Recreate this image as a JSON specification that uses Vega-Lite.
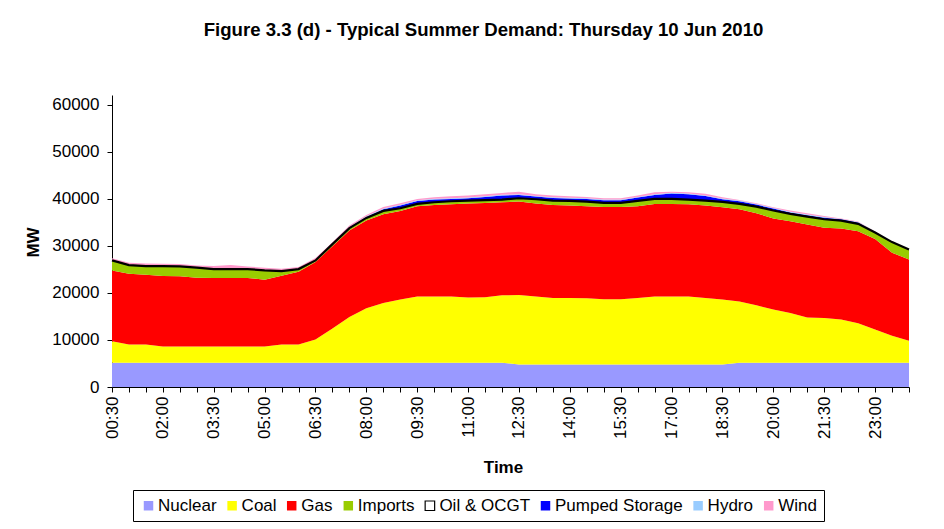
{
  "$schema": "https://vega.github.io/schema/vega-lite/v6.json",
  "width": 797,
  "height": 292,
  "autosize": {"type": "none"},
  "padding": {"left": 112, "top": 95, "right": 35, "bottom": 142},
  "background": "white",
  "config": {
    "font": "Liberation Sans",
    "view": {"stroke": null}
  },
  "title": {
    "text": "Figure 3.3 (d) - Typical Summer Demand: Thursday 10 Jun 2010",
    "font": "Liberation Sans",
    "fontSize": 18.6,
    "fontWeight": "bold",
    "color": "black",
    "anchor": "middle",
    "frame": "group",
    "dx": -27,
    "offset": 55
  },
  "data": {
    "values": [
      {"t": "00:30", "Nuclear": 5150, "Coal": 4600, "Gas": 15050, "Imports": 2120, "Oil & OCGT": 0, "Pumped Storage": 0, "Hydro": 80, "Wind": 400},
      {"t": "01:00", "Nuclear": 5150, "Coal": 3900, "Gas": 15050, "Imports": 1830, "Oil & OCGT": 0, "Pumped Storage": 0, "Hydro": 80, "Wind": 390},
      {"t": "01:30", "Nuclear": 5150, "Coal": 3900, "Gas": 14800, "Imports": 1870, "Oil & OCGT": 0, "Pumped Storage": 0, "Hydro": 80, "Wind": 450},
      {"t": "02:00", "Nuclear": 5150, "Coal": 3470, "Gas": 14980, "Imports": 2120, "Oil & OCGT": 0, "Pumped Storage": 0, "Hydro": 80, "Wind": 400},
      {"t": "02:30", "Nuclear": 5150, "Coal": 3470, "Gas": 14910, "Imports": 2120, "Oil & OCGT": 0, "Pumped Storage": 0, "Hydro": 80, "Wind": 420},
      {"t": "03:00", "Nuclear": 5150, "Coal": 3470, "Gas": 14630, "Imports": 2120, "Oil & OCGT": 0, "Pumped Storage": 0, "Hydro": 80, "Wind": 400},
      {"t": "03:30", "Nuclear": 5150, "Coal": 3470, "Gas": 14560, "Imports": 1900, "Oil & OCGT": 0, "Pumped Storage": 0, "Hydro": 80, "Wind": 560},
      {"t": "04:00", "Nuclear": 5150, "Coal": 3470, "Gas": 14560, "Imports": 1900, "Oil & OCGT": 0, "Pumped Storage": 0, "Hydro": 80, "Wind": 770},
      {"t": "04:30", "Nuclear": 5150, "Coal": 3470, "Gas": 14560, "Imports": 1900, "Oil & OCGT": 0, "Pumped Storage": 0, "Hydro": 80, "Wind": 490},
      {"t": "05:00", "Nuclear": 5150, "Coal": 3470, "Gas": 14210, "Imports": 1970, "Oil & OCGT": 0, "Pumped Storage": 0, "Hydro": 80, "Wind": 490},
      {"t": "05:30", "Nuclear": 5150, "Coal": 3900, "Gas": 14620, "Imports": 990, "Oil & OCGT": 0, "Pumped Storage": 0, "Hydro": 80, "Wind": 410},
      {"t": "06:00", "Nuclear": 5150, "Coal": 3900, "Gas": 15470, "Imports": 560, "Oil & OCGT": 0, "Pumped Storage": 0, "Hydro": 80, "Wind": 340},
      {"t": "06:30", "Nuclear": 5150, "Coal": 4950, "Gas": 16470, "Imports": 350, "Oil & OCGT": 0, "Pumped Storage": 30, "Hydro": 100, "Wind": 370},
      {"t": "07:00", "Nuclear": 5150, "Coal": 7290, "Gas": 17520, "Imports": 430, "Oil & OCGT": 0, "Pumped Storage": 60, "Hydro": 120, "Wind": 240},
      {"t": "07:30", "Nuclear": 5150, "Coal": 9750, "Gas": 18380, "Imports": 500, "Oil & OCGT": 0, "Pumped Storage": 120, "Hydro": 150, "Wind": 290},
      {"t": "08:00", "Nuclear": 5150, "Coal": 11600, "Gas": 18650, "Imports": 570, "Oil & OCGT": 0, "Pumped Storage": 180, "Hydro": 150, "Wind": 300},
      {"t": "08:30", "Nuclear": 5150, "Coal": 12720, "Gas": 18870, "Imports": 720, "Oil & OCGT": 0, "Pumped Storage": 340, "Hydro": 150, "Wind": 350},
      {"t": "09:00", "Nuclear": 5150, "Coal": 13450, "Gas": 18850, "Imports": 570, "Oil & OCGT": 0, "Pumped Storage": 570, "Hydro": 150, "Wind": 360},
      {"t": "09:30", "Nuclear": 5150, "Coal": 14080, "Gas": 19210, "Imports": 500, "Oil & OCGT": 0, "Pumped Storage": 610, "Hydro": 150, "Wind": 300},
      {"t": "10:00", "Nuclear": 5150, "Coal": 14080, "Gas": 19500, "Imports": 560, "Oil & OCGT": 0, "Pumped Storage": 570, "Hydro": 150, "Wind": 350},
      {"t": "10:30", "Nuclear": 5150, "Coal": 14080, "Gas": 19640, "Imports": 630, "Oil & OCGT": 0, "Pumped Storage": 500, "Hydro": 150, "Wind": 420},
      {"t": "11:00", "Nuclear": 5150, "Coal": 13870, "Gas": 19990, "Imports": 630, "Oil & OCGT": 0, "Pumped Storage": 500, "Hydro": 150, "Wind": 420},
      {"t": "11:30", "Nuclear": 5150, "Coal": 13950, "Gas": 20050, "Imports": 600, "Oil & OCGT": 0, "Pumped Storage": 680, "Hydro": 150, "Wind": 410},
      {"t": "12:00", "Nuclear": 5150, "Coal": 14350, "Gas": 19790, "Imports": 570, "Oil & OCGT": 0, "Pumped Storage": 850, "Hydro": 150, "Wind": 410},
      {"t": "12:30", "Nuclear": 4800, "Coal": 14770, "Gas": 19860, "Imports": 710, "Oil & OCGT": 0, "Pumped Storage": 710, "Hydro": 150, "Wind": 550},
      {"t": "13:00", "Nuclear": 4800, "Coal": 14430, "Gas": 19780, "Imports": 920, "Oil & OCGT": 0, "Pumped Storage": 560, "Hydro": 150, "Wind": 350},
      {"t": "13:30", "Nuclear": 4800, "Coal": 14130, "Gas": 19800, "Imports": 910, "Oil & OCGT": 0, "Pumped Storage": 570, "Hydro": 150, "Wind": 350},
      {"t": "14:00", "Nuclear": 4800, "Coal": 14130, "Gas": 19650, "Imports": 990, "Oil & OCGT": 0, "Pumped Storage": 530, "Hydro": 150, "Wind": 320},
      {"t": "14:30", "Nuclear": 4800, "Coal": 14100, "Gas": 19540, "Imports": 990, "Oil & OCGT": 0, "Pumped Storage": 570, "Hydro": 150, "Wind": 280},
      {"t": "15:00", "Nuclear": 4800, "Coal": 13850, "Gas": 19650, "Imports": 850, "Oil & OCGT": 0, "Pumped Storage": 560, "Hydro": 150, "Wind": 280},
      {"t": "15:30", "Nuclear": 4800, "Coal": 13850, "Gas": 19650, "Imports": 850, "Oil & OCGT": 0, "Pumped Storage": 560, "Hydro": 150, "Wind": 280},
      {"t": "16:00", "Nuclear": 4800, "Coal": 14130, "Gas": 19510, "Imports": 1130, "Oil & OCGT": 0, "Pumped Storage": 710, "Hydro": 150, "Wind": 280},
      {"t": "16:30", "Nuclear": 4800, "Coal": 14430, "Gas": 19710, "Imports": 1060, "Oil & OCGT": 0, "Pumped Storage": 850, "Hydro": 150, "Wind": 410},
      {"t": "17:00", "Nuclear": 4800, "Coal": 14430, "Gas": 19710, "Imports": 1060, "Oil & OCGT": 0, "Pumped Storage": 1130, "Hydro": 200, "Wind": 220},
      {"t": "17:30", "Nuclear": 4800, "Coal": 14430, "Gas": 19640, "Imports": 990, "Oil & OCGT": 0, "Pumped Storage": 1130, "Hydro": 150, "Wind": 270},
      {"t": "18:00", "Nuclear": 4800, "Coal": 14130, "Gas": 19670, "Imports": 1040, "Oil & OCGT": 0, "Pumped Storage": 960, "Hydro": 150, "Wind": 350},
      {"t": "18:30", "Nuclear": 4800, "Coal": 13800, "Gas": 19630, "Imports": 1130, "Oil & OCGT": 0, "Pumped Storage": 570, "Hydro": 150, "Wind": 280},
      {"t": "19:00", "Nuclear": 5150, "Coal": 13010, "Gas": 19650, "Imports": 1130, "Oil & OCGT": 0, "Pumped Storage": 560, "Hydro": 150, "Wind": 130},
      {"t": "19:30", "Nuclear": 5150, "Coal": 12230, "Gas": 19590, "Imports": 1400, "Oil & OCGT": 0, "Pumped Storage": 430, "Hydro": 120, "Wind": 150},
      {"t": "20:00", "Nuclear": 5150, "Coal": 11320, "Gas": 19360, "Imports": 1700, "Oil & OCGT": 0, "Pumped Storage": 420, "Hydro": 120, "Wind": 160},
      {"t": "20:30", "Nuclear": 5150, "Coal": 10610, "Gas": 19500, "Imports": 1560, "Oil & OCGT": 0, "Pumped Storage": 280, "Hydro": 150, "Wind": 280},
      {"t": "21:00", "Nuclear": 5150, "Coal": 9620, "Gas": 19790, "Imports": 1690, "Oil & OCGT": 0, "Pumped Storage": 300, "Hydro": 150, "Wind": 250},
      {"t": "21:30", "Nuclear": 5150, "Coal": 9550, "Gas": 19150, "Imports": 1830, "Oil & OCGT": 0, "Pumped Storage": 320, "Hydro": 150, "Wind": 240},
      {"t": "22:00", "Nuclear": 5150, "Coal": 9190, "Gas": 19370, "Imports": 1690, "Oil & OCGT": 0, "Pumped Storage": 250, "Hydro": 100, "Wind": 80},
      {"t": "22:30", "Nuclear": 5150, "Coal": 8420, "Gas": 19570, "Imports": 1560, "Oil & OCGT": 0, "Pumped Storage": 280, "Hydro": 100, "Wind": 120},
      {"t": "23:00", "Nuclear": 5150, "Coal": 7080, "Gas": 19220, "Imports": 1410, "Oil & OCGT": 0, "Pumped Storage": 90, "Hydro": 50, "Wind": 50},
      {"t": "23:30", "Nuclear": 5150, "Coal": 5730, "Gas": 17670, "Imports": 2260, "Oil & OCGT": 0, "Pumped Storage": 40, "Hydro": 30, "Wind": 20},
      {"t": "24:00", "Nuclear": 5150, "Coal": 4670, "Gas": 17320, "Imports": 2120, "Oil & OCGT": 0, "Pumped Storage": 20, "Hydro": 10, "Wind": 10}
    ]
  },
  "transform": [
    {"fold": ["Nuclear", "Coal", "Gas", "Imports", "Oil & OCGT", "Pumped Storage", "Hydro", "Wind"], "as": ["source", "mw"]},
    {"calculate": "indexof(['Nuclear','Coal','Gas','Imports','Oil & OCGT','Pumped Storage','Hydro','Wind'], datum.source)", "as": "ord"},
    {"stack": "mw", "groupby": ["t"], "sort": [{"field": "ord", "order": "ascending"}], "as": ["y0", "y1"]}
  ],
  "encoding": {
    "x": {
      "field": "t",
      "type": "ordinal",
      "sort": null,
      "scale": {"type": "point", "padding": 0},
      "axis": {
        "title": "Time",
        "titleFont": "Liberation Sans",
        "titleFontSize": 17,
        "titleFontWeight": "bold",
        "titleColor": "black",
        "titleX": 391,
        "titleY": 85,
        "titleAlign": "center",
        "titleBaseline": "alphabetic",
        "labelAngle": -90,
        "labelFont": "Liberation Sans",
        "labelFontSize": 17,
        "labelColor": "black",
        "labelPadding": 4,
        "labelOverlap": false,
        "labelExpr": "indexof(['00:30','02:00','03:30','05:00','06:30','08:00','09:30','11:00','12:30','14:00','15:30','17:00','18:30','20:00','21:30','23:00'], datum.value) >= 0 ? datum.value : ''",
        "tickSize": 5,
        "tickColor": "black",
        "domainColor": "black",
        "grid": false
      }
    }
  },
  "layer": [
    {
      "mark": {"type": "area", "interpolate": "linear"},
      "encoding": {
        "y": {
          "field": "y1",
          "type": "quantitative",
          "scale": {"domain": [0, 62100], "nice": false},
          "axis": {
            "title": "MW",
            "titleFont": "Liberation Sans",
            "titleFontSize": 17,
            "titleFontWeight": "bold",
            "titleColor": "black",
            "titleAngle": -90,
            "titleX": -79,
            "titleY": 147,
            "titleAlign": "center",
            "titleBaseline": "middle",
            "values": [0, 10000, 20000, 30000, 40000, 50000, 60000],
            "format": "d",
            "labelFont": "Liberation Sans",
            "labelFontSize": 17,
            "labelColor": "black",
            "labelPadding": 8,
            "tickSize": 5,
            "tickColor": "black",
            "domainColor": "black",
            "grid": false
          }
        },
        "y2": {"field": "y0"},
        "color": {
          "field": "source",
          "type": "nominal",
          "scale": {
            "domain": ["Nuclear", "Coal", "Gas", "Imports", "Oil & OCGT", "Pumped Storage", "Hydro", "Wind"],
            "range": ["#9999FF", "#FFFF00", "#FF0000", "#99CC00", "#FFFFFF", "#0000FF", "#99CCFF", "#FF99CC"]
          },
          "legend": {
            "title": null,
            "orient": "none",
            "legendX": 21,
            "legendY": 395,
            "direction": "horizontal",
            "columns": 8,
            "symbolType": "square",
            "symbolSize": 90,
            "labelFont": "Liberation Sans",
            "labelFontSize": 17,
            "labelColor": "black",
            "labelOffset": 1,
            "columnPadding": 6.6,
            "padding": 7,
            "strokeColor": "black",
            "fillColor": "white",
            "cornerRadius": 0,
            "encode": {
              "symbols": {
                "update": {
                  "stroke": {"signal": "datum.value === 'Oil & OCGT' ? 'black' : 'transparent'"},
                  "strokeWidth": {"value": 1.2}
                }
              }
            }
          }
        }
      }
    },
    {
      "transform": [{"filter": "datum.source === 'Oil & OCGT'"}],
      "mark": {"type": "line", "color": "black", "strokeWidth": 2.2, "interpolate": "linear"},
      "encoding": {
        "y": {"field": "y1", "type": "quantitative"}
      }
    }
  ]
}
